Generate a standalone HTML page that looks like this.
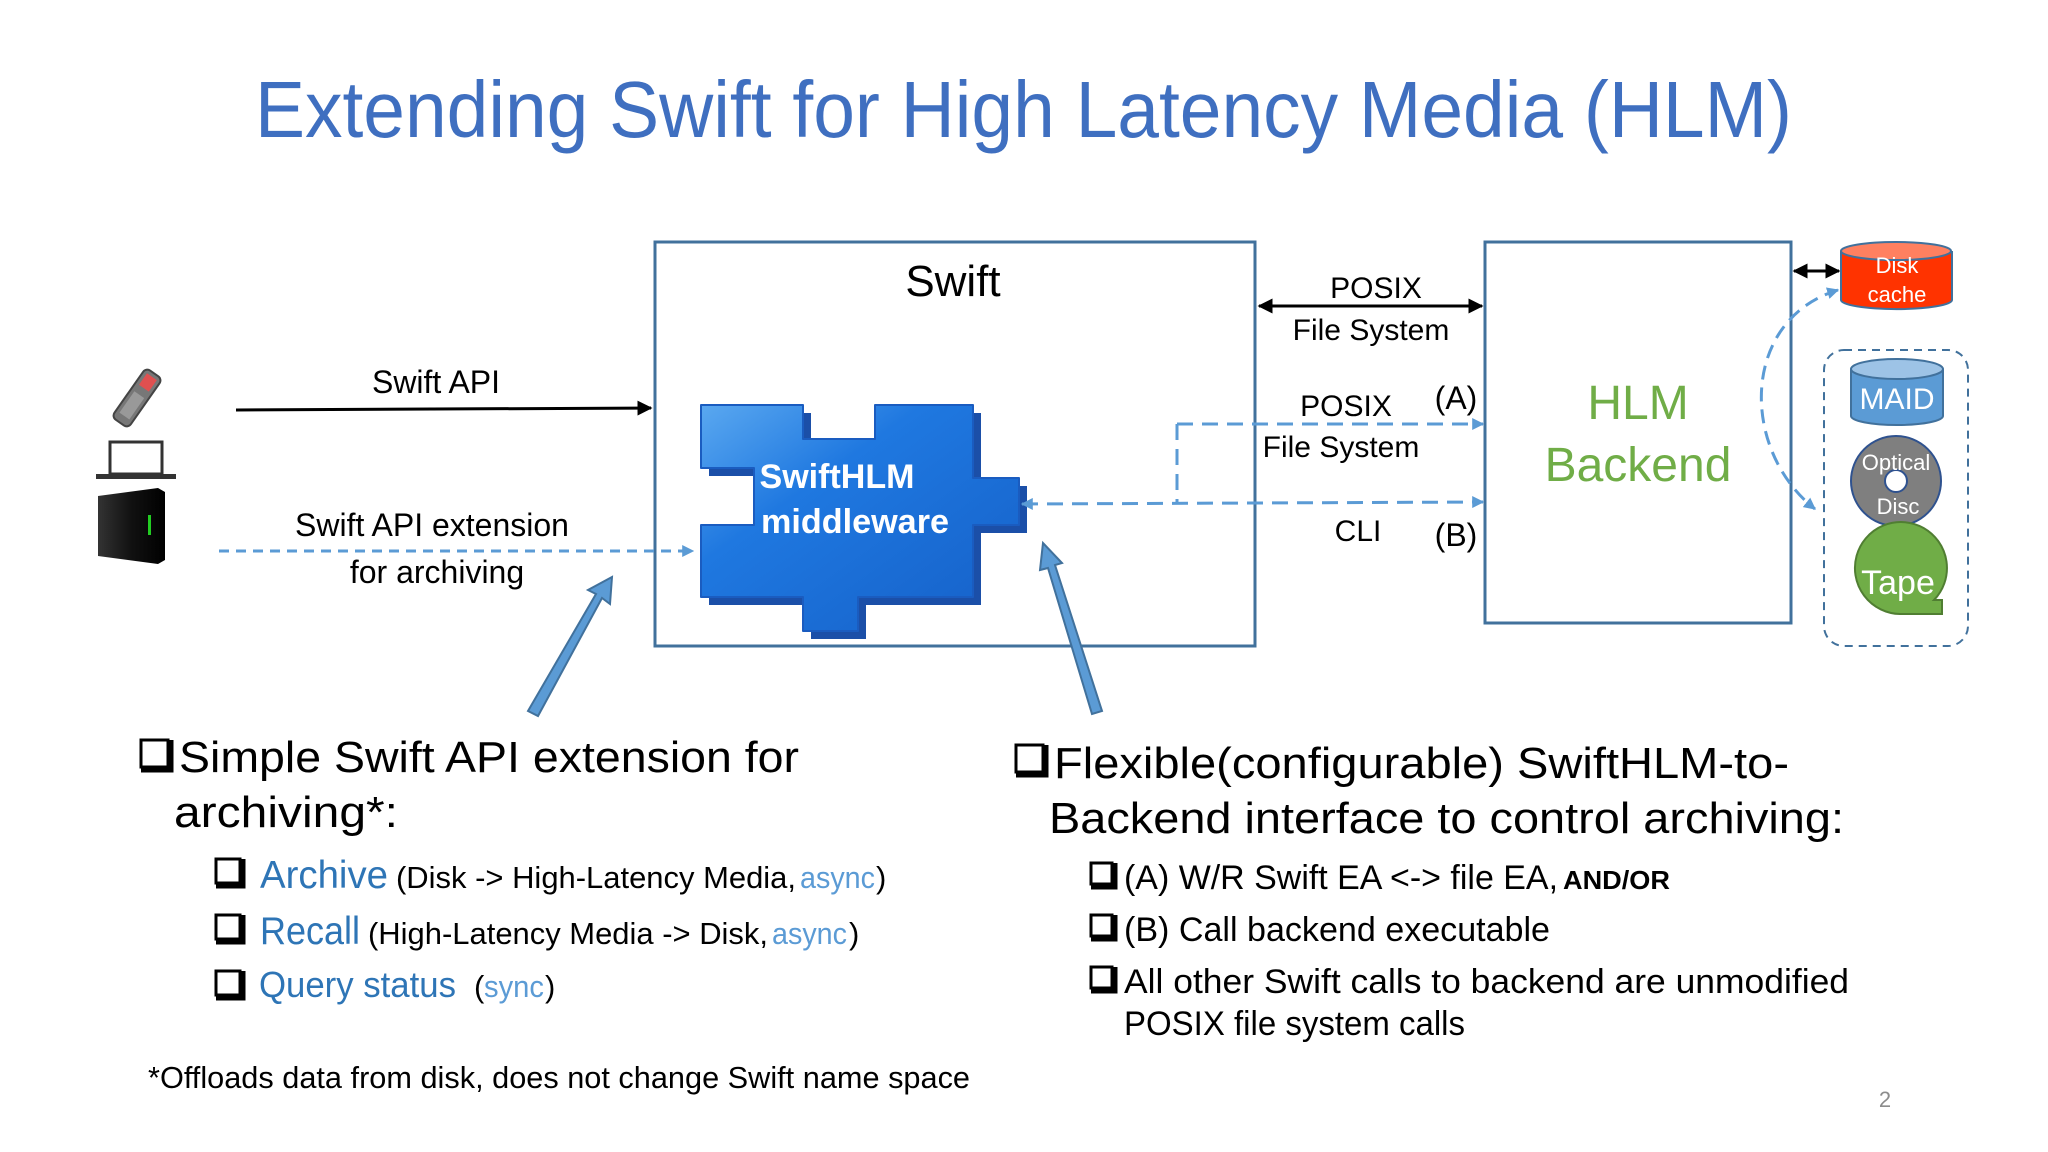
<!DOCTYPE html>
<html><head><meta charset="utf-8"><style>
html,body{margin:0;padding:0;background:#fff;}
svg{display:block;}
text{font-family:"Liberation Sans",sans-serif;}
</style></head><body>
<svg width="2048" height="1152" viewBox="0 0 2048 1152" xmlns="http://www.w3.org/2000/svg">
<defs>
<marker id="ab" viewBox="0 0 10 10" refX="9" refY="5" markerWidth="5" markerHeight="5" orient="auto-start-reverse"><path d="M0,0 L10,5 L0,10 z" fill="#000"/></marker>
<marker id="abl" viewBox="0 0 10 10" refX="9" refY="5" markerWidth="4" markerHeight="4" orient="auto-start-reverse"><path d="M0,0 L10,5 L0,10 z" fill="#5b9bd5"/></marker>
<linearGradient id="pz" x1="0" y1="0" x2="1" y2="1"><stop offset="0" stop-color="#5aa8f0"/><stop offset="0.35" stop-color="#1f78e0"/><stop offset="1" stop-color="#1560c8"/></linearGradient>
<linearGradient id="srv" x1="0" y1="0" x2="1" y2="0"><stop offset="0" stop-color="#333"/><stop offset="0.5" stop-color="#111"/><stop offset="1" stop-color="#000"/></linearGradient>
</defs>

<!-- Title -->
<text x="255" y="137" font-size="80" fill="#3f6fc0" textLength="1537" lengthAdjust="spacingAndGlyphs">Extending Swift for High Latency Media (HLM)</text>

<!-- Swift box -->
<rect x="655" y="242" width="600" height="404" fill="none" stroke="#41719c" stroke-width="3"/>
<text x="953" y="296" font-size="44" text-anchor="middle" fill="#000">Swift</text>

<!-- HLM box -->
<rect x="1485" y="242" width="306" height="381" fill="none" stroke="#41719c" stroke-width="3"/>
<text x="1638" y="419" font-size="48" text-anchor="middle" fill="#70ad47">HLM</text>
<text x="1638" y="481" font-size="48" text-anchor="middle" fill="#70ad47">Backend</text>

<!-- Puzzle -->
<g transform="translate(8,8)">
<path d="M701,405 L803,405 L803,439 L875,439 L875,405 L973,405 L973,478 L1019,478 L1019,525 L973,525 L973,597 L858,597 L858,631 L803,631 L803,597 L701,597 L701,525 L754,525 L754,468 L701,468 Z" fill="#1b4fa8"/>
</g>
<path d="M701,405 L803,405 L803,439 L875,439 L875,405 L973,405 L973,478 L1019,478 L1019,525 L973,525 L973,597 L858,597 L858,631 L803,631 L803,597 L701,597 L701,525 L754,525 L754,468 L701,468 Z" fill="url(#pz)" stroke="#1a5cc0" stroke-width="2" stroke-linejoin="round"/>
<text x="837" y="488" font-size="34" font-weight="bold" fill="#fff" text-anchor="middle" textLength="155" lengthAdjust="spacingAndGlyphs">SwiftHLM</text>
<text x="855" y="533" font-size="34" font-weight="bold" fill="#fff" text-anchor="middle" textLength="188" lengthAdjust="spacingAndGlyphs">middleware</text>

<!-- Devices -->
<g transform="translate(137,398) rotate(35)">
<rect x="-10" y="-30" width="20" height="60" rx="5" fill="#777" stroke="#444" stroke-width="2"/>
<rect x="-6" y="-26" width="12" height="14" fill="#e05050"/>
<rect x="-6" y="-4" width="12" height="26" fill="#999"/>
</g>
<rect x="110" y="442" width="52" height="32" fill="#fff" stroke="#333" stroke-width="3"/>
<rect x="96" y="474" width="80" height="5" fill="#333"/>
<path d="M98,496 L158,488 L165,492 L165,560 L158,564 L98,556 Z" fill="url(#srv)"/>
<rect x="148" y="515" width="3" height="20" fill="#2c2"/>

<!-- Swift API arrow -->
<line x1="236" y1="410" x2="651" y2="408" stroke="#000" stroke-width="3" marker-end="url(#ab)"/>
<text x="436" y="393" font-size="32" text-anchor="middle" fill="#000">Swift API</text>
<line x1="219" y1="551" x2="693" y2="551" stroke="#5b9bd5" stroke-width="3" stroke-dasharray="10,7" marker-end="url(#abl)"/>
<text x="432" y="536" font-size="32" text-anchor="middle" fill="#000">Swift API extension</text>
<text x="437" y="583" font-size="32" text-anchor="middle" fill="#000">for archiving</text>

<!-- POSIX solid -->
<line x1="1259" y1="306" x2="1482" y2="306" stroke="#000" stroke-width="3" marker-start="url(#ab)" marker-end="url(#ab)"/>
<text x="1376" y="298" font-size="30" text-anchor="middle" fill="#000">POSIX</text>
<text x="1371" y="340" font-size="30" text-anchor="middle" fill="#000">File System</text>

<!-- Dashed A/B -->
<path d="M1177,424 L1483,424" stroke="#5b9bd5" stroke-width="3" stroke-dasharray="16,9" fill="none" marker-end="url(#abl)"/>
<path d="M1177,424 L1177,504" stroke="#5b9bd5" stroke-width="3" stroke-dasharray="16,9" fill="none"/>
<path d="M1022,504 L1483,502" stroke="#5b9bd5" stroke-width="3" stroke-dasharray="16,9" fill="none" marker-start="url(#abl)" marker-end="url(#abl)"/>
<text x="1346" y="416" font-size="30" text-anchor="middle" fill="#000">POSIX</text>
<text x="1456" y="409" font-size="32" text-anchor="middle" fill="#000">(A)</text>
<text x="1341" y="457" font-size="30" text-anchor="middle" fill="#000">File System</text>
<text x="1358" y="541" font-size="30" text-anchor="middle" fill="#000">CLI</text>
<text x="1456" y="546" font-size="32" text-anchor="middle" fill="#000">(B)</text>

<!-- Disk cache -->
<line x1="1794" y1="271" x2="1839" y2="271" stroke="#000" stroke-width="3" marker-start="url(#ab)" marker-end="url(#ab)"/>
<path d="M1841,251 L1841,300 A55,9 0 0 0 1952,300 L1952,251" fill="#ff3300" stroke="#41719c" stroke-width="2"/>
<ellipse cx="1896" cy="251" rx="55" ry="9" fill="#ff8060" stroke="#41719c" stroke-width="2"/>
<text x="1897" y="273" font-size="22" fill="#fff" text-anchor="middle">Disk</text>
<text x="1897" y="302" font-size="22" fill="#fff" text-anchor="middle">cache</text>
<path d="M1838,290 C1740,320 1740,450 1815,509" stroke="#5b9bd5" stroke-width="3" stroke-dasharray="14,8" fill="none" marker-start="url(#abl)" marker-end="url(#abl)"/>

<!-- Dashed group -->
<rect x="1824" y="350" width="144" height="296" rx="20" fill="none" stroke="#41719c" stroke-width="2" stroke-dasharray="8,6"/>
<path d="M1851,369 L1851,416 A46,9 0 0 0 1943,416 L1943,369" fill="#5b9bd5" stroke="#41719c" stroke-width="2"/>
<ellipse cx="1897" cy="369" rx="46" ry="10" fill="#9dc3e6" stroke="#41719c" stroke-width="2"/>
<text x="1897" y="409" font-size="30" fill="#fff" text-anchor="middle">MAID</text>
<circle cx="1896" cy="481" r="45" fill="#7f7f7f" stroke="#2f528f" stroke-width="2"/>
<circle cx="1896" cy="481" r="11" fill="#fff" stroke="#2f528f" stroke-width="2"/>
<text x="1896" y="470" font-size="22" fill="#fff" text-anchor="middle">Optical</text>
<text x="1898" y="514" font-size="22" fill="#fff" text-anchor="middle">Disc</text>
<path d="M1942,600 L1942,614 L1900,614 A46,46 0 1 1 1934,600 Z" fill="#70ad47" stroke="#507e32" stroke-width="2"/>
<text x="1898" y="594" font-size="34" fill="#fff" text-anchor="middle">Tape</text>

<!-- Big blue arrows -->
<path d="M528,711 L596,594 L588,590 L612,577 L610,604 L602,598 L538,716 Z" fill="#5b9bd5" stroke="#41719c" stroke-width="2"/>
<path d="M1092,714 L1048,568 L1040,570 L1043,543 L1062,563 L1055,565 L1102,711 Z" fill="#5b9bd5" stroke="#41719c" stroke-width="2"/>

<!-- Checkbox helper drawn inline -->
<g fill="none" stroke="#000">
<rect x="141" y="740" width="27" height="27" stroke-width="3"/><path d="M141,770 L171,770 L171,740" stroke-width="5"/>
<rect x="216" y="859" width="24" height="24" stroke-width="3"/><path d="M216,886 L243,886 L243,859" stroke-width="5"/>
<rect x="216" y="915" width="24" height="24" stroke-width="3"/><path d="M216,942 L243,942 L243,915" stroke-width="5"/>
<rect x="216" y="971" width="24" height="24" stroke-width="3"/><path d="M216,998 L243,998 L243,971" stroke-width="5"/>
<rect x="1016" y="745" width="27" height="27" stroke-width="3"/><path d="M1016,775 L1046,775 L1046,745" stroke-width="5"/>
<rect x="1091" y="863" width="21" height="21" stroke-width="3"/><path d="M1091,887 L1115,887 L1115,863" stroke-width="5"/>
<rect x="1091" y="915" width="21" height="21" stroke-width="3"/><path d="M1091,939 L1115,939 L1115,915" stroke-width="5"/>
<rect x="1091" y="967" width="21" height="21" stroke-width="3"/><path d="M1091,991 L1115,991 L1115,967" stroke-width="5"/>
</g>

<!-- Left bullets -->
<text x="179" y="772" font-size="44" fill="#000" textLength="620" lengthAdjust="spacingAndGlyphs">Simple Swift API extension for</text>
<text x="174" y="827" font-size="44" fill="#000" textLength="224" lengthAdjust="spacingAndGlyphs">archiving*:</text>
<text x="260" y="888" font-size="39" fill="#2e75b6" textLength="128" lengthAdjust="spacingAndGlyphs">Archive</text>
<text x="396" y="888" font-size="31" fill="#000" textLength="400" lengthAdjust="spacingAndGlyphs">(Disk -&gt; High-Latency Media,</text>
<text x="800" y="888" font-size="31" fill="#5b9bd5" textLength="75" lengthAdjust="spacingAndGlyphs">async</text>
<text x="876" y="888" font-size="31" fill="#000">)</text>
<text x="260" y="944" font-size="39" fill="#2e75b6" textLength="100" lengthAdjust="spacingAndGlyphs">Recall</text>
<text x="368" y="944" font-size="31" fill="#000" textLength="400" lengthAdjust="spacingAndGlyphs">(High-Latency Media -&gt; Disk,</text>
<text x="772" y="944" font-size="31" fill="#5b9bd5" textLength="75" lengthAdjust="spacingAndGlyphs">async</text>
<text x="849" y="944" font-size="31" fill="#000">)</text>
<text x="259" y="997" font-size="36" fill="#2e75b6" textLength="197" lengthAdjust="spacingAndGlyphs">Query status</text>
<text x="474" y="997" font-size="31" fill="#000">(</text>
<text x="484" y="997" font-size="31" fill="#5b9bd5" textLength="60" lengthAdjust="spacingAndGlyphs">sync</text>
<text x="545" y="997" font-size="31" fill="#000">)</text>
<text x="148" y="1088" font-size="31" fill="#000" textLength="822" lengthAdjust="spacingAndGlyphs">*Offloads data from disk, does not change Swift name space</text>

<!-- Right bullets -->
<text x="1054" y="778" font-size="44" fill="#000" textLength="735" lengthAdjust="spacingAndGlyphs">Flexible(configurable) SwiftHLM-to-</text>
<text x="1049" y="833" font-size="44" fill="#000" textLength="795" lengthAdjust="spacingAndGlyphs">Backend interface to control archiving:</text>
<text x="1124" y="889" font-size="34" fill="#000" textLength="434" lengthAdjust="spacingAndGlyphs">(A) W/R Swift EA &lt;-&gt; file EA,</text>
<text x="1563" y="889" font-size="26" font-weight="bold" fill="#000" textLength="107" lengthAdjust="spacingAndGlyphs">AND/OR</text>
<text x="1124" y="941" font-size="34" fill="#000" textLength="426" lengthAdjust="spacingAndGlyphs">(B) Call backend executable</text>
<text x="1124" y="993" font-size="34" fill="#000" textLength="725" lengthAdjust="spacingAndGlyphs">All other Swift calls to backend are unmodified</text>
<text x="1124" y="1035" font-size="34" fill="#000" textLength="341" lengthAdjust="spacingAndGlyphs">POSIX file system calls</text>

<text x="1885" y="1107" font-size="22" fill="#8c8c8c" text-anchor="middle">2</text>
</svg>
</body></html>
